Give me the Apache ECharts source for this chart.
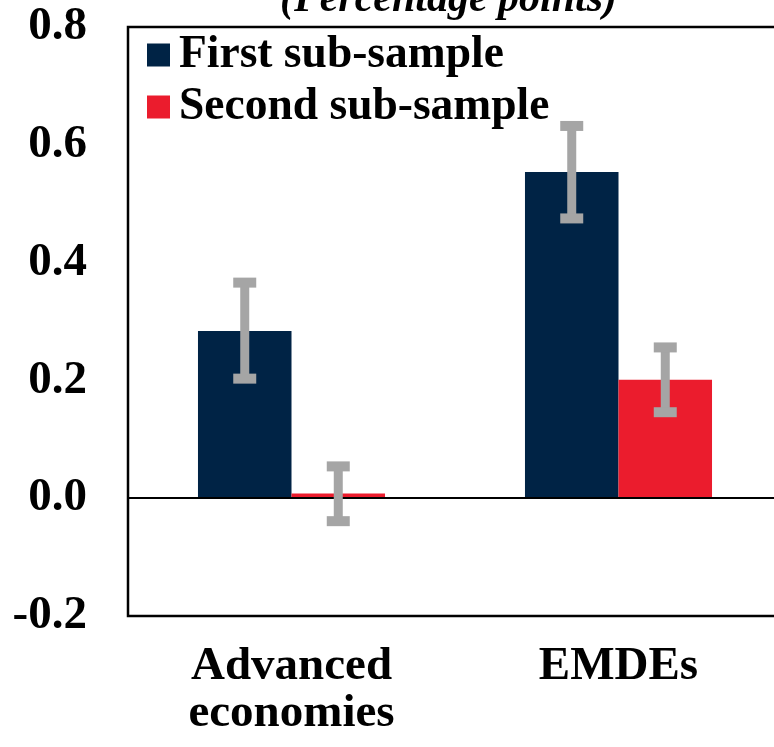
<!DOCTYPE html>
<html>
<head>
<meta charset="utf-8">
<script src="https://cdn.jsdelivr.net/npm/echarts@6/dist/echarts.min.js"></script>
<style>html,body{margin:0;padding:0;background:#fff;}#c{width:774px;height:747px;}</style>
</head>
<body>
<div id="c"></div>
<script>
var categories = ['Advanced\neconomies', 'EMDEs'];
var seriesNames = ['First sub-sample', 'Second sub-sample'];
var firstValues = [0.284, 0.554];
var secondValues = [0.008, 0.201];
var firstLow = [0.203, 0.475];
var firstHigh = [0.366, 0.632];
var secondLow = [-0.039, 0.146];
var secondHigh = [0.054, 0.256];
var yTicks = [-0.2, 0.0, 0.2, 0.4, 0.6, 0.8];

var FONT = "'Liberation Serif','Times New Roman',serif";
var chart = echarts.init(document.getElementById('c'), null, {renderer: 'canvas'});

var errData = [];
for (var i = 0; i < categories.length; i++) {
  errData.push([i, 0, firstLow[i], firstHigh[i]]);
  errData.push([i, 1, secondLow[i], secondHigh[i]]);
}

var BAR_FRAC = 0.286;

chart.setOption({
  animation: false,
  backgroundColor: '#ffffff',
  title: {
    text: '(Percentage points)',
    left: 280, top: -21, padding: 0,
    textStyle: {fontFamily: FONT, fontStyle: 'italic', fontWeight: 'bold', fontSize: 42, color: '#000'}
  },
  legend: {
    data: seriesNames,
    orient: 'vertical',
    left: 147, top: 32,
    itemWidth: 23, itemHeight: 23, itemGap: 6,
    icon: 'rect',
    textStyle: {fontFamily: FONT, fontWeight: 'bold', fontSize: 45.5, lineHeight: 45, color: '#000', padding: [0,0,0,4]},
    padding: 0
  },
  grid: {
    left: 128, width: 654, top: 27, bottom: 131,
    outerBoundsMode: 'none', containLabel: false,
    show: true, borderColor: '#000', borderWidth: 2.5, backgroundColor: 'transparent'
  },
  xAxis: {
    type: 'category',
    data: categories,
    axisLine: {show: false, onZero: false},
    axisTick: {show: false},
    axisLabel: {fontFamily: FONT, fontWeight: 'bold', fontSize: 47, lineHeight: 47, color: '#000', margin: 27, interval: 0}
  },
  yAxis: {
    type: 'value',
    min: yTicks[0], max: yTicks[yTicks.length - 1], interval: 0.2,
    axisLine: {show: false},
    axisTick: {show: false},
    splitLine: {show: false},
    axisLabel: {
      fontFamily: FONT, fontWeight: 'bold', fontSize: 47, color: '#000', margin: 41,
      formatter: function (v) { return v.toFixed(1); }
    }
  },
  series: [
    {
      name: seriesNames[0], type: 'bar', data: firstValues,
      barWidth: (BAR_FRAC * 100) + '%', barGap: '0%',
      itemStyle: {color: '#002345'},
      markLine: {
        silent: true, symbol: 'none', label: {show: false},
        lineStyle: {color: '#000', width: 2, type: 'solid'},
        data: [{yAxis: 0}]
      }
    },
    {
      name: seriesNames[1], type: 'bar', data: secondValues,
      barWidth: (BAR_FRAC * 100) + '%', barGap: '0%',
      itemStyle: {color: '#EB1C2D'}
    },
    {
      type: 'custom', z: 10, silent: true,
      data: errData,
      encode: {x: 0, y: [2, 3]},
      renderItem: function (params, api) {
        var cat = api.value(0), s = api.value(1);
        var band = api.size([1, 0])[0];
        var bw = band * BAR_FRAC;
        var c = api.coord([cat, 0])[0] + (s === 0 ? -bw / 2 : bw / 2);
        var lo = api.coord([cat, api.value(2)])[1];
        var hi = api.coord([cat, api.value(3)])[1];
        var col = '#A5A5A5';
        var capW = 23;
        return {
          type: 'group',
          children: [
            {type: 'line', shape: {x1: c, y1: hi, x2: c, y2: lo}, style: {stroke: col, lineWidth: 9}},
            {type: 'line', shape: {x1: c - capW / 2, y1: hi, x2: c + capW / 2, y2: hi}, style: {stroke: col, lineWidth: 10}},
            {type: 'line', shape: {x1: c - capW / 2, y1: lo, x2: c + capW / 2, y2: lo}, style: {stroke: col, lineWidth: 10}}
          ]
        };
      }
    }
  ]
});
</script>
</body>
</html>
